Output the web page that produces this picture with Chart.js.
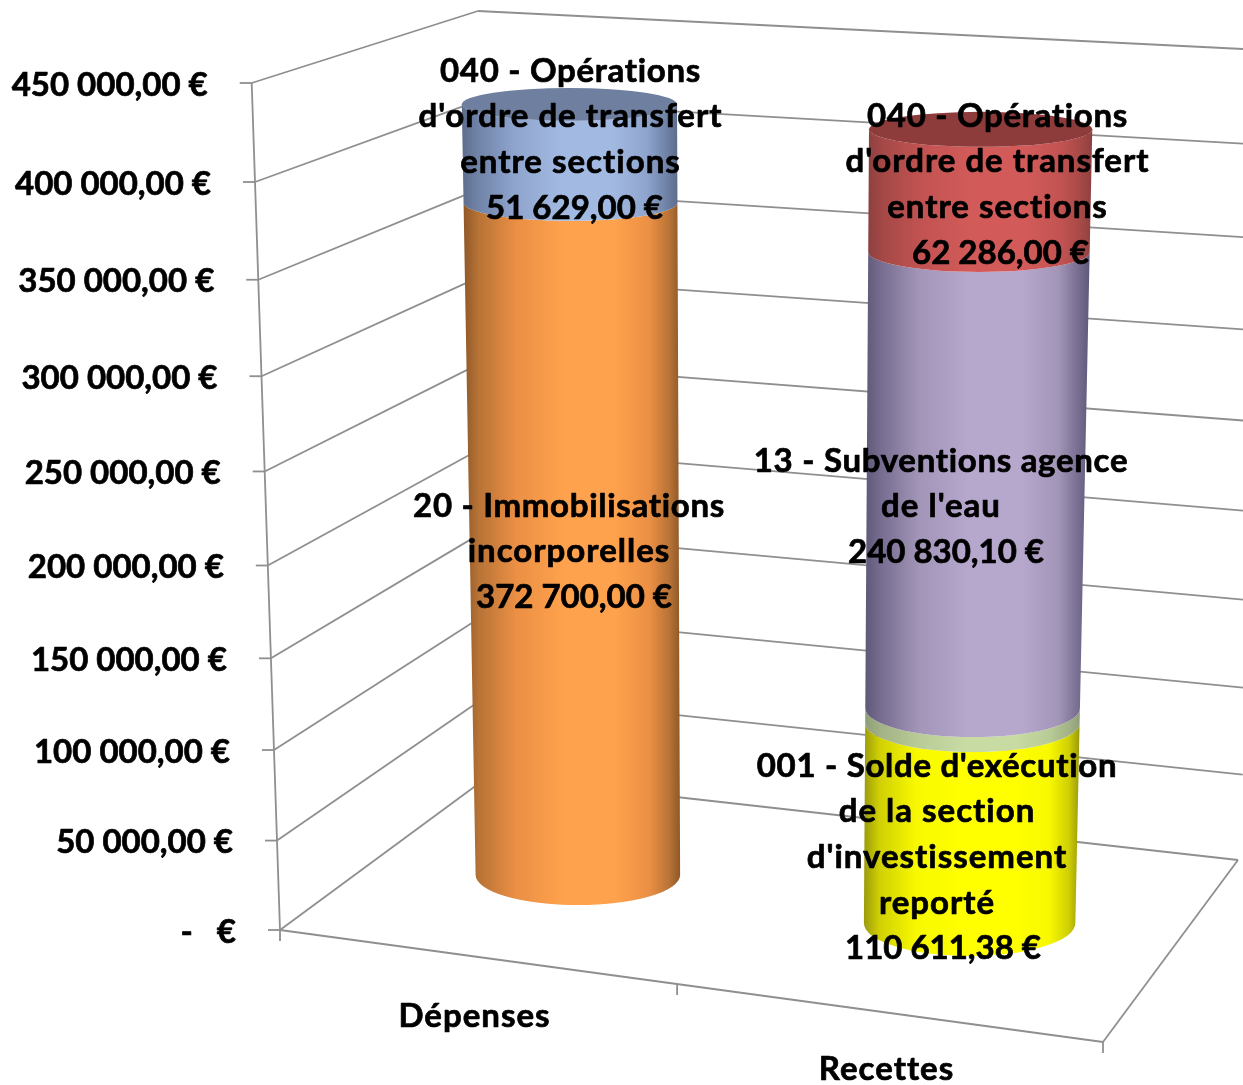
<!DOCTYPE html>
<html lang="fr">
<head>
<meta charset="utf-8">
<title>Dépenses / Recettes</title>
<script src="https://cdn.jsdelivr.net/npm/chart.js@4/dist/chart.umd.min.js"></script>
<style>
    html, body { margin: 0; padding: 0; background: #fff; }
    canvas { display: block; filter: blur(0.5px); }
</style>
</head>
<body>
<canvas id="chart" width="1243" height="1085"></canvas>
<script>
// Données
const categories = ['Dépenses', 'Recettes'];
const yTickLabels = ['-   €', '50 000,00 €', '100 000,00 €', '150 000,00 €', '200 000,00 €',
    '250 000,00 €', '300 000,00 €', '350 000,00 €', '400 000,00 €', '450 000,00 €'];
const immobilisations = [372700, null];
const ordreDepenses = [51629, null];
const soldeExecution = [null, 110611.38];
const sansEtiquette = [null, 8000];
const subventions = [null, 240830.10];
const ordreRecettes = [null, 62286];

// Perspective du cadre (murs et sol)
const PERSP = 1.0589;
const axisLine = { x0: 280, x1: 251.7 };
const backLeft = { x0: 489, y0: 776, x1: 478, y1: 11 };
const backRight = { x0: 1238, y0: 860, x1: 1283, y1: 51 };
const floorFront = { x: 1103, y: 1042 };

// Perspective de chaque colonne, par catégorie
const cylinders = [
    { baseY: 875, span: 820, widthScale: 1, widthGrow: 0.056, lean: -9, b0: 30, bSlope: -14.5 },
    { baseY: 923, span: 850, widthScale: 1.034, widthGrow: 0.06, lean: 11.8, b0: 33, bSlope: -16.6 }
];

// Couleurs : [bord sombre, intermédiaire, milieu, centre clair, dessus]
const shades = [
    ['#8f5828', '#b87336', '#ea8f44', '#ffa24d', null],
    ['#5d6c8c', '#6f82a6', '#8ea4cd', '#a2b9e2', '#6f7f9f'],
    ['#9a9a0c', '#cfcf04', '#f8f800', '#ffff00', null],
    ['#8e9e7a', '#a2b285', '#b8ca96', '#c8dba3', null],
    ['#5f5878', '#776d90', '#a295b8', '#b6a7cc', null],
    ['#8c4040', '#a64947', '#c25352', '#d25b59', '#8d3b3b']
];

const LABEL_FONT = 'bold 33px Lato';
const LABEL_LINE = 45.7;
const seriesLabels = [
    { lines: ['20 - Immobilisations', 'incorporelles', '372 700,00 €'], x: 569, y: 506, lastDx: 5 },
    { lines: ['040 - Opérations', "d'ordre de transfert", 'entre sections', '51 629,00 €'], x: 570.5, y: 71, lastDx: 4 },
    { lines: ["001 - Solde d'exécution", 'de la section', "d'investissement", 'reporté', '110 611,38 €'], x: 937, y: 766, lastDx: 6 },
    null,
    { lines: ['13 - Subventions agence', "de l'eau", '240 830,10 €'], x: 941, y: 461, lastDx: 5 },
    { lines: ['040 - Opérations', "d'ordre de transfert", 'entre sections', '62 286,00 €'], x: 997.5, y: 116, lastDx: 3 }
];
const categoryLabelPos = [{ x: 474.5, y: 1016 }, { x: 886.5, y: 1069 }];

function perspective(t) {
    return t / (t + PERSP * (1 - t));
}

function lerp(a, b, f) {
    return a + (b - a) * f;
}

function heightOf(chart, pixel) {
    const area = chart.scales.y;
    return perspective((area.bottom - pixel) / (area.bottom - area.top));
}

function line(ctx, x0, y0, x1, y1) {
    ctx.beginPath();
    ctx.moveTo(x0, y0);
    ctx.lineTo(x1, y1);
    ctx.stroke();
}

// Texte un peu plus gras et plus large que Lato, proche de l'original
function drawText(ctx, text, x, y) {
    const hasLetters = /[a-zé]/i.test(text);
    const hasDigits = /[0-9]/.test(text);
    ctx.letterSpacing = hasLetters ? (hasDigits ? '0.7px' : '1px') : '0px';
    ctx.lineWidth = 0.7;
    ctx.strokeStyle = '#000';
    ctx.lineJoin = 'round';
    ctx.strokeText(text, x, y);
    ctx.fillText(text, x, y);
    ctx.letterSpacing = '0px';
}

// Cadre : grille des deux murs, sol, graduations
function drawFrame(chart) {
    const ctx = chart.ctx;
    const yScale = chart.scales.y;
    ctx.save();
    ctx.fillStyle = '#000';
    ctx.font = LABEL_FONT;
    ctx.textAlign = 'right';
    ctx.textBaseline = 'middle';

    const bottomY = yScale.bottom;
    const topY = yScale.top;
    yScale.ticks.forEach(function(tick) {
        const pixel = yScale.getPixelForValue(tick.value);
        const f = heightOf(chart, pixel);
        const ay = lerp(bottomY, topY, f);
        const ax = lerp(axisLine.x0, axisLine.x1, f);
        const bx = lerp(backLeft.x0, backLeft.x1, f);
        const by = lerp(backLeft.y0, backLeft.y1, f);
        const rx = lerp(backRight.x0, backRight.x1, f);
        const ry = lerp(backRight.y0, backRight.y1, f);
        ctx.strokeStyle = '#8f8f8f';
        ctx.lineWidth = 1.8;
        line(ctx, ax - 12, ay, ax, ay);
        line(ctx, ax, ay, bx, by);
        line(ctx, bx, by, rx, ry);
        drawText(ctx, tick.label, ax - 44, ay + 2);
    });

    ctx.strokeStyle = '#8f8f8f';
    ctx.lineWidth = 1.8;

    // axe vertical
    line(ctx, axisLine.x0, bottomY, axisLine.x1, topY);

    // sol
    line(ctx, axisLine.x0, bottomY, floorFront.x, floorFront.y);
    line(ctx, floorFront.x, floorFront.y, backRight.x0, backRight.y0);

    // graduations horizontales
    for (let i = 0; i <= categories.length; i++) {
        const k = i / categories.length;
        const tx = lerp(axisLine.x0, floorFront.x, k * (i === 1 ? 0.965 : 1));
        const ty = lerp(bottomY, floorFront.y, k * (i === 1 ? 0.965 : 1));
        line(ctx, tx, ty, tx, ty + 11);
    }
    ctx.restore();
}

// Un tronçon de cylindre, à partir de l'élément barre calculé par Chart.js
function drawSegment(chart, el, catIndex, colors) {
    const ctx = chart.ctx;
    const c = cylinders[catIndex];
    const ring = function(pixel) {
        const f = heightOf(chart, pixel);
        return {
            x: el.x + c.lean * f,
            y: c.baseY - c.span * f,
            a: el.width / 2 * c.widthScale * (1 + c.widthGrow * f),
            b: c.b0 + c.bSlope * f
        };
    };
    const low = ring(el.base);
    const high = ring(el.y);

    const left = Math.min(low.x - low.a, high.x - high.a);
    const right = Math.max(low.x + low.a, high.x + high.a);
    const grad = ctx.createLinearGradient(left, 0, right, 0);
    grad.addColorStop(0, colors[0]);
    grad.addColorStop(0.07, colors[1]);
    grad.addColorStop(0.24, colors[2]);
    grad.addColorStop(0.46, colors[3]);
    grad.addColorStop(0.70, colors[3]);
    grad.addColorStop(0.86, colors[2]);
    grad.addColorStop(0.95, colors[1]);
    grad.addColorStop(1, colors[0]);

    ctx.fillStyle = grad;
    ctx.beginPath();
    ctx.moveTo(low.x - low.a, low.y);
    ctx.lineTo(high.x - high.a, high.y);
    ctx.ellipse(high.x, high.y, high.a, high.b, 0, Math.PI, 0, true);
    ctx.lineTo(low.x + low.a, low.y);
    ctx.ellipse(low.x, low.y, low.a, low.b, 0, 0, Math.PI, false);
    ctx.closePath();
    ctx.fill();

    if (colors[4]) {
        ctx.fillStyle = colors[4];
        ctx.beginPath();
        ctx.ellipse(high.x, high.y, high.a, high.b, 0, 0, Math.PI * 2);
        ctx.fill();
    }
}

const cylinderPlugin = {
    id: 'cylinder',
    beforeDatasetsDraw(chart) {
        const ctx = chart.ctx;
        ctx.save();
        ctx.fillStyle = '#fff';
        ctx.fillRect(0, 0, chart.width, chart.height);
        ctx.restore();

        drawFrame(chart);

        chart.data.datasets.forEach(function(ds, dsIndex) {
            const meta = chart.getDatasetMeta(dsIndex);
            meta.data.forEach(function(el, catIndex) {
                if (ds.data[catIndex] === null) return;
                drawSegment(chart, el, catIndex, shades[dsIndex]);
            });
        });

        // étiquettes de données
        ctx.save();
        ctx.fillStyle = '#000';
        ctx.font = LABEL_FONT;
        ctx.textAlign = 'center';
        ctx.textBaseline = 'middle';
        seriesLabels.forEach(function(label) {
            if (!label) return;
            label.lines.forEach(function(text, i) {
                const dx = i === label.lines.length - 1 ? label.lastDx : 0;
                drawText(ctx, text, label.x + dx, label.y + i * LABEL_LINE);
            });
        });
        chart.scales.x.ticks.forEach(function(tick, i) {
            drawText(ctx, tick.label, categoryLabelPos[i].x, categoryLabelPos[i].y);
        });
        ctx.restore();
        return false;
    }
};

new Chart(document.getElementById('chart').getContext('2d'), {
    type: 'bar',
    data: {
        labels: categories,
        datasets: [
            { label: '20 - Immobilisations incorporelles', data: immobilisations, backgroundColor: '#ffa24d' },
            { label: "040 - Opérations d'ordre de transfert entre sections", data: ordreDepenses, backgroundColor: '#a2b9e2' },
            { label: "001 - Solde d'exécution de la section d'investissement reporté", data: soldeExecution, backgroundColor: '#ffff00' },
            { label: '', data: sansEtiquette, backgroundColor: '#c8dba3' },
            { label: "13 - Subventions agence de l'eau", data: subventions, backgroundColor: '#b6a7cc' },
            { label: "040 - Opérations d'ordre de transfert entre sections", data: ordreRecettes, backgroundColor: '#d25b59' }
        ]
    },
    options: {
        responsive: false,
        animation: false,
        layout: { padding: { left: 382, right: 77.5, top: 83, bottom: 155 } },
        barPercentage: 1,
        categoryPercentage: 0.522,
        plugins: {
            legend: { display: false },
            tooltip: { enabled: false }
        },
        scales: {
            x: { stacked: true, display: false, ticks: { autoSkip: false } },
            y: {
                stacked: true,
                display: false,
                min: 0,
                max: 450000,
                ticks: {
                    stepSize: 50000,
                    autoSkip: false,
                    callback: function(value, index) {
                        return yTickLabels[index];
                    }
                }
            }
        }
    },
    plugins: [cylinderPlugin]
});
</script>
</body>
</html>
